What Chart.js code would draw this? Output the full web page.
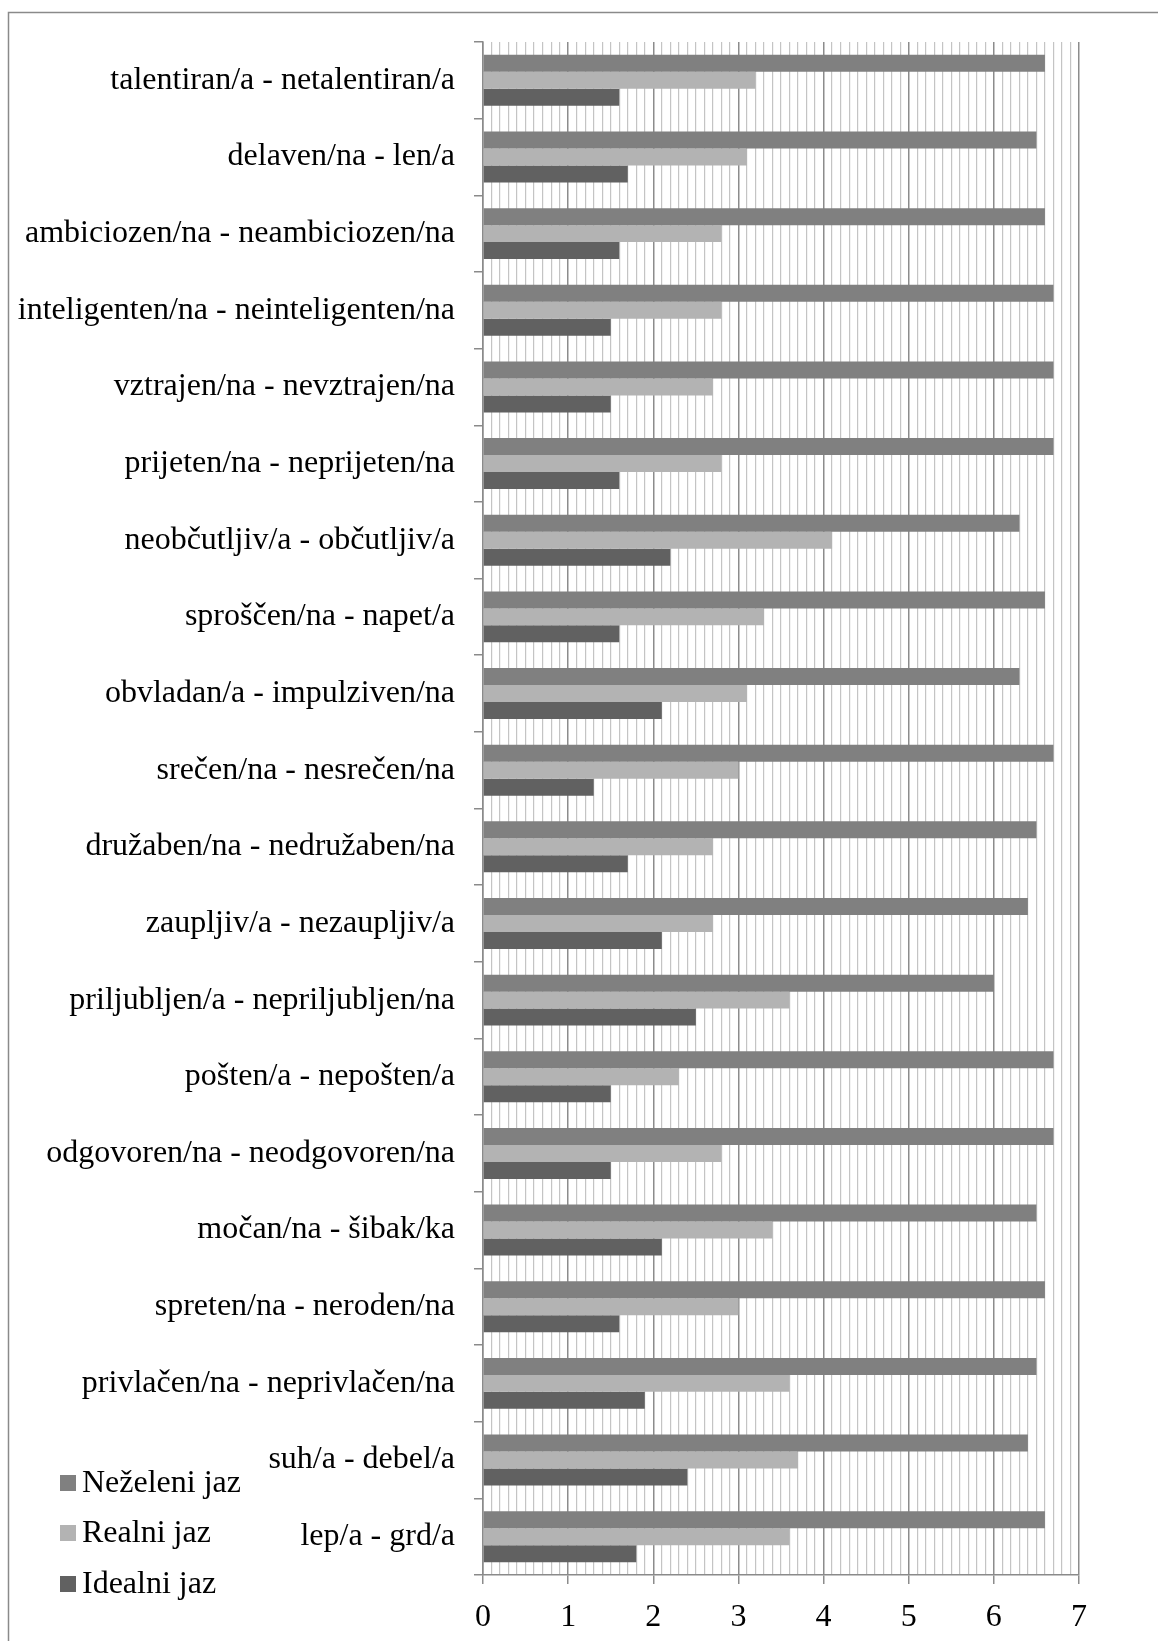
<!DOCTYPE html>
<html>
<head>
<meta charset="utf-8">
<script src="https://cdn.jsdelivr.net/npm/chart.js@4.4.1/dist/chart.umd.min.js"></script>
<style>
  html, body { margin: 0; padding: 0; background: #ffffff; }
  canvas { display: block; }
</style>
</head>
<body>
<canvas id="chart" width="1158" height="1641"></canvas>
<script>
// Semantic-differential scale pairs, top to bottom
const categories = [
  'talentiran/a - netalentiran/a',
  'delaven/na - len/a',
  'ambiciozen/na - neambiciozen/na',
  'inteligenten/na - neinteligenten/na',
  'vztrajen/na - nevztrajen/na',
  'prijeten/na - neprijeten/na',
  'neobčutljiv/a - občutljiv/a',
  'sproščen/na - napet/a',
  'obvladan/a - impulziven/na',
  'srečen/na - nesrečen/na',
  'družaben/na - nedružaben/na',
  'zaupljiv/a - nezaupljiv/a',
  'priljubljen/a - nepriljubljen/na',
  'pošten/a - nepošten/a',
  'odgovoren/na - neodgovoren/na',
  'močan/na - šibak/ka',
  'spreten/na - neroden/na',
  'privlačen/na - neprivlačen/na',
  'suh/a - debel/a',
  'lep/a - grd/a'
];

const seriesNames = ['Neželeni jaz', 'Realni jaz', 'Idealni jaz'];

const nezeleniJaz = [6.6, 6.5, 6.6, 6.7, 6.7, 6.7, 6.3, 6.6, 6.3, 6.7, 6.5, 6.4, 6.0, 6.7, 6.7, 6.5, 6.6, 6.5, 6.4, 6.6];
const realniJaz   = [3.2, 3.1, 2.8, 2.8, 2.7, 2.8, 4.1, 3.3, 3.1, 3.0, 2.7, 2.7, 3.6, 2.3, 2.8, 3.4, 3.0, 3.6, 3.7, 3.6];
const idealniJaz  = [1.6, 1.7, 1.6, 1.5, 1.5, 1.6, 2.2, 1.6, 2.1, 1.3, 1.7, 2.1, 2.5, 1.5, 1.5, 2.1, 1.6, 1.9, 2.4, 1.8];

const xMin = 0;
const xMax = 7;
const xStep = 0.1;

const seriesColors = ['#808080', '#b3b3b3', '#616161'];
const FONT = '"Liberation Serif", "Times New Roman", serif';
const FONT_SIZE = 32;

const isWhole = v => Math.abs(v - Math.round(v)) < 1e-6;

// Outer frame and the legend stacked at the lower left
const decorations = {
  id: 'decorations',
  beforeDraw(chart) {
    const ctx = chart.ctx;
    ctx.save();
    ctx.strokeStyle = '#8a8a8a';
    ctx.lineWidth = 1.5;
    ctx.beginPath();
    ctx.moveTo(8.5, chart.height + 2);
    ctx.lineTo(8.5, 12.5);
    ctx.lineTo(chart.width + 2, 12.5);
    ctx.stroke();
    ctx.restore();
  },
  afterDraw(chart) {
    const ctx = chart.ctx;
    ctx.save();
    ctx.font = FONT_SIZE + 'px ' + FONT;
    ctx.textBaseline = 'middle';
    ctx.textAlign = 'left';
    const rows = [1483, 1533, 1584];
    chart.data.datasets.forEach((ds, i) => {
      const y = rows[i];
      ctx.fillStyle = ds.backgroundColor;
      ctx.fillRect(60, y - 8, 16, 16);
      ctx.fillStyle = '#000000';
      ctx.fillText(ds.label, 82, y + 1);
    });
    ctx.restore();
  }
};

new Chart(document.getElementById('chart'), {
  type: 'bar',
  data: {
    labels: categories,
    datasets: [
      { label: seriesNames[0], data: nezeleniJaz, backgroundColor: seriesColors[0] },
      { label: seriesNames[1], data: realniJaz, backgroundColor: seriesColors[1] },
      { label: seriesNames[2], data: idealniJaz, backgroundColor: seriesColors[2] }
    ]
  },
  options: {
    indexAxis: 'y',
    responsive: false,
    animation: false,
    devicePixelRatio: 1,
    layout: { padding: { top: 42, right: 79, left: 0, bottom: 0 } },
    datasets: {
      bar: { categoryPercentage: 0.665, barPercentage: 1.0, borderWidth: 0 }
    },
    plugins: {
      legend: { display: false },
      tooltip: { enabled: false }
    },
    scales: {
      y: {
        position: 'left',
        afterFit(scale) { scale.width = 483; },
        grid: {
          display: true,
          drawOnChartArea: false,
          drawTicks: true,
          tickLength: 9,
          color: '#8a8a8a',
          lineWidth: 1.5
        },
        border: { display: true, color: '#8a8a8a', width: 1.5 },
        ticks: {
          color: '#000000',
          padding: 19,
          font: { family: FONT, size: FONT_SIZE },
          autoSkip: false
        }
      },
      x: {
        position: 'bottom',
        min: xMin,
        max: xMax,
        afterFit(scale) { scale.height = 66; },
        grid: {
          drawOnChartArea: true,
          drawTicks: true,
          tickLength: 9,
          color: ctx => isWhole(ctx.tick.value) ? '#8c8c8c' : '#c4c4c4',
          tickColor: ctx => isWhole(ctx.tick.value) ? '#8c8c8c' : 'rgba(0,0,0,0)',
          lineWidth: ctx => isWhole(ctx.tick.value) ? 1.5 : 1.2
        },
        border: { display: true, color: '#8a8a8a', width: 1.5 },
        ticks: {
          stepSize: xStep,
          maxTicksLimit: 200,
          autoSkip: false,
          maxRotation: 0,
          color: '#000000',
          padding: 14,
          font: { family: FONT, size: FONT_SIZE },
          callback: v => isWhole(v) ? String(Math.round(v)) : ''
        }
      }
    }
  },
  plugins: [decorations]
});
</script>
</body>
</html>
